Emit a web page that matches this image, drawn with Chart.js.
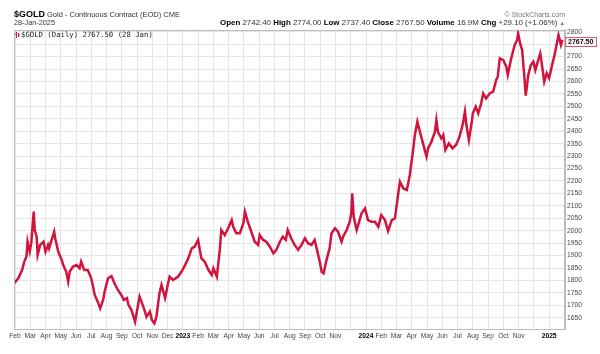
<!DOCTYPE html>
<html><head><meta charset="utf-8">
<script src="https://cdn.jsdelivr.net/npm/chart.js@4.4.1/dist/chart.umd.min.js"></script>
<style>
html,body{margin:0;padding:0;background:#fff;}
#wrap{position:relative;width:600px;height:354px;overflow:hidden;}
canvas{position:absolute;left:0;top:0;}
.t{position:absolute;white-space:nowrap;font-family:'Liberation Sans',Arial,sans-serif;color:#222;line-height:1;}
.t b{color:#000;}
</style></head><body>
<div id="wrap">
<canvas id="c" width="600" height="354"></canvas>
<div class="t" style="left:14px;top:10px;font-size:9px;font-weight:bold;color:#000">$GOLD</div>
<div class="t" style="left:47px;top:11.2px;font-size:7.5px;color:#333">Gold - Continuous Contract (EOD) CME</div>
<div class="t" style="right:35px;top:10.5px;font-size:7px;color:#777">© StockCharts.com</div>
<div class="t" style="left:14px;top:19.4px;font-size:7.3px;color:#333">28-Jan-2025</div>
<div class="t" style="right:35px;top:18.9px;font-size:7.9px;color:#333"><b>Open</b> 2742.40 <b>High</b> 2774.00 <b>Low</b> 2737.40 <b>Close</b> 2767.50 <b>Volume</b> 16.9M <b>Chg</b> +29.10 (+1.06%) <span style="color:#2a9a2a;font-size:5.5px">▲</span></div>
</div>
<script>
// ---- data ----
const dates = [
"2022-01-31","2022-02-07","2022-02-14","2022-02-18","2022-02-22","2022-02-24","2022-02-28","2022-03-03","2022-03-08","2022-03-10",
"2022-03-14","2022-03-16","2022-03-21","2022-03-28","2022-04-01","2022-04-06","2022-04-08","2022-04-18","2022-04-20","2022-04-26",
"2022-05-03","2022-05-06","2022-05-12","2022-05-16","2022-05-19","2022-05-26","2022-06-02","2022-06-08","2022-06-11","2022-06-17",
"2022-06-24","2022-07-01","2022-07-08","2022-07-14","2022-07-19","2022-07-25","2022-07-28","2022-08-04","2022-08-11","2022-08-17",
"2022-08-24","2022-08-31","2022-09-05","2022-09-11","2022-09-14","2022-09-20","2022-09-27","2022-09-30","2022-10-06","2022-10-10",
"2022-10-17","2022-10-20","2022-10-27","2022-10-31","2022-11-05","2022-11-09","2022-11-15","2022-11-19","2022-11-26","2022-12-02",
"2022-12-05","2022-12-12","2022-12-22","2022-12-29","2023-01-05","2023-01-12","2023-01-19","2023-01-25","2023-02-01","2023-02-04",
"2023-02-07","2023-02-13","2023-02-20","2023-02-26","2023-03-01","2023-03-08","2023-03-14","2023-03-17","2023-03-24","2023-03-31",
"2023-04-07","2023-04-10","2023-04-16","2023-04-23","2023-04-30","2023-05-03","2023-05-09","2023-05-16","2023-05-23","2023-05-30",
"2023-06-02","2023-06-09","2023-06-15","2023-06-22","2023-06-29","2023-07-05","2023-07-12","2023-07-18","2023-07-24","2023-07-28",
"2023-08-04","2023-08-11","2023-08-18","2023-08-25","2023-09-01","2023-09-07","2023-09-14","2023-09-20","2023-09-24","2023-09-30",
"2023-10-04","2023-10-08","2023-10-13","2023-10-20","2023-10-24","2023-10-31","2023-11-06","2023-11-13","2023-11-16","2023-11-23",
"2023-11-29","2023-12-02","2023-12-04","2023-12-07","2023-12-13","2023-12-16","2023-12-23","2023-12-30","2024-01-05","2024-01-12",
"2024-01-19","2024-01-26","2024-02-01","2024-02-08","2024-02-14","2024-02-21","2024-02-27","2024-03-05","2024-03-08","2024-03-15",
"2024-03-22","2024-03-28","2024-04-04","2024-04-07","2024-04-12","2024-04-17","2024-04-23","2024-04-30","2024-05-03","2024-05-10",
"2024-05-17","2024-05-20","2024-05-23","2024-05-30","2024-06-03","2024-06-07","2024-06-14","2024-06-21","2024-06-28","2024-07-05",
"2024-07-12","2024-07-16","2024-07-19","2024-07-24","2024-07-30","2024-08-01","2024-08-07","2024-08-12","2024-08-18","2024-08-22",
"2024-08-28","2024-09-04","2024-09-11","2024-09-17","2024-09-20","2024-09-24","2024-10-01","2024-10-07","2024-10-10","2024-10-17",
"2024-10-24","2024-10-29","2024-10-31","2024-11-04","2024-11-08","2024-11-12","2024-11-15","2024-11-20","2024-11-25","2024-11-30",
"2024-12-04","2024-12-09","2024-12-14","2024-12-18","2024-12-22","2024-12-27","2025-01-01","2025-01-07","2025-01-12","2025-01-16",
"2025-01-20","2025-01-25","2025-01-28"];
const closes = [
1790,1809,1842,1876,1896,1956,1916,1950,2077,2003,
1976,1903,1943,1956,1916,1943,1929,1996,1970,1916,
1882,1862,1835,1795,1835,1856,1862,1849,1876,1842,
1842,1809,1742,1715,1688,1722,1755,1809,1818,1789,
1762,1742,1722,1729,1702,1681,1634,1668,1735,1715,
1675,1654,1675,1641,1628,1654,1749,1782,1729,1789,
1815,1802,1815,1835,1860,1889,1929,1936,1963,1923,
1889,1876,1842,1822,1849,1815,1923,2003,1983,2010,
2043,2016,1990,1990,2030,2077,2036,1996,1956,1943,
1983,1963,1956,1936,1909,1923,1956,1976,1963,2003,
1970,1943,1923,1943,1970,1950,1943,1963,1929,1876,
1835,1829,1876,1929,1990,2010,1996,1956,1976,2003,
2036,2070,2150,2056,2003,2023,2070,2090,2043,2036,
2036,2016,2063,2043,1999,2043,2050,2157,2197,2170,
2164,2224,2331,2385,2439,2398,2351,2298,2331,2358,
2398,2445,2398,2371,2385,2325,2351,2331,2345,2378,
2432,2479,2425,2364,2439,2472,2499,2472,2512,2552,
2532,2552,2559,2606,2619,2693,2686,2659,2626,2693,
2747,2767,2794,2753,2726,2626,2543,2626,2666,2680,
2646,2680,2713,2659,2599,2633,2613,2666,2706,2747,
2787,2747,2767.50];
// x-axis: one tick per month starting Feb 2022 (index 0)
const monthTicks = ["Feb","Mar","Apr","May","Jun","Jul","Aug","Sep","Oct","Nov","Dec","2023",
"Feb","Mar","Apr","May","Jun","Jul","Aug","Sep","Oct","Nov","","2024",
"Feb","Mar","Apr","May","Jun","Jul","Aug","Sep","Oct","Nov","","2025"];
const priceTicks = [1650,1700,1750,1800,1850,1900,1950,2000,2050,2100,2150,2200,2250,2300,2350,2400,2450,2500,2550,2600,2650,2700,2750,2800];
const lastPrice = 2767.50;

function monthPos(s){
  const [Y,M,D] = s.split('-').map(Number);
  const dim = new Date(Y, M, 0).getDate();
  return (Y-2022)*12 + (M-2) + (D-1)/dim;
}
const points = dates.map((d,i)=>({x: monthPos(d), y: closes[i]}));
const isYear = (c)=>{ const v = c && c.tick ? c.tick.value : (c ? c.index : -1); return /^\d/.test(monthTicks[v]||''); };

const FONT = "'Liberation Sans', Arial, sans-serif";
const deco = {
  id:'deco',
  afterDraw(chart){
    const ctx = chart.ctx, ca = chart.chartArea;
    ctx.save();
    ctx.strokeStyle = '#bdbdbd'; ctx.lineWidth = 1;
    ctx.strokeRect(Math.round(ca.left)+0.5, Math.round(ca.top)+0.5, Math.round(ca.right-ca.left)-1, Math.round(ca.bottom-ca.top)-1);
    // legend
    ctx.strokeStyle = '#d4173f'; ctx.lineWidth = 1;
    ctx.beginPath();
    ctx.moveTo(16.5, ca.top+2.5); ctx.lineTo(16.5, ca.top+8.5);
    ctx.moveTo(18.5, ca.top+3.5); ctx.lineTo(18.5, ca.top+7.5);
    ctx.moveTo(15, ca.top+4.5); ctx.lineTo(16.5, ca.top+4.5);
    ctx.moveTo(18.5, ca.top+5.5); ctx.lineTo(20, ca.top+5.5);
    ctx.stroke();
    ctx.fillStyle = '#222';
    ctx.font = "7.3px 'DejaVu Sans Mono', monospace";
    ctx.textBaseline = 'alphabetic'; ctx.textAlign = 'left';
    ctx.fillText('$GOLD (Daily) 2767.50 (28 Jan)', 21, ca.top+7.8);
    // last price box
    const y = chart.scales.y.getPixelForValue(lastPrice) + 1.5;
    const by = Math.round(y-4.5)+0.5;
    ctx.fillStyle = '#fff5f7';
    ctx.fillRect(ca.right+0.5, by, 31, 9);
    ctx.strokeStyle = '#d95a78';
    ctx.strokeRect(ca.right+0.5, by, 31, 9);
    ctx.fillStyle = '#111';
    ctx.font = "bold 7px " + FONT;
    ctx.textBaseline = 'middle';
    ctx.fillText('2767.50', ca.right+3, by+4.7);
    ctx.restore();
  }
};

new Chart(document.getElementById('c'), {
  type:'line',
  data:{datasets:[{data:points, borderColor:'#d2143d', borderWidth:2.5, pointRadius:0, tension:0, fill:false, borderJoinStyle:'miter'}]},
  options:{
    responsive:false, animation:false, devicePixelRatio:1,
    layout:{padding:{left:14, top:29.5, right:0, bottom:0}},
    plugins:{legend:{display:false}, tooltip:{enabled:false}},
    scales:{
      x:{type:'linear', min:-0.066, max:36.04,
        afterBuildTicks(s){ s.ticks = monthTicks.map((_,i)=>({value:i})); },
        afterFit(s){ s.height = 24.5; },
        grid:{color:'#e6e6e6', drawTicks:false},
        border:{color:'#bdbdbd'},
        ticks:{autoSkip:false, maxRotation:0, padding:3,
          callback:(v)=>monthTicks[v] ?? '',
          color:(c)=>isYear(c)?'#000':'#444',
          font:(c)=>({family:FONT, size:6.7, weight:isYear(c)?'bold':'normal'})}
      },
      y:{type:'linear', position:'right', min:1603, max:2809,
        afterBuildTicks(s){ s.ticks = priceTicks.map(v=>({value:v})); },
        afterFit(s){ s.width = 35; },
        grid:{color:'#e6e6e6', drawTicks:false},
        border:{color:'#bdbdbd'},
        ticks:{padding:2, color:'#444', font:{family:FONT, size:6.7}, callback:(v)=>String(v)}
      }
    }
  },
  plugins:[deco]
});
</script>
</body></html>
